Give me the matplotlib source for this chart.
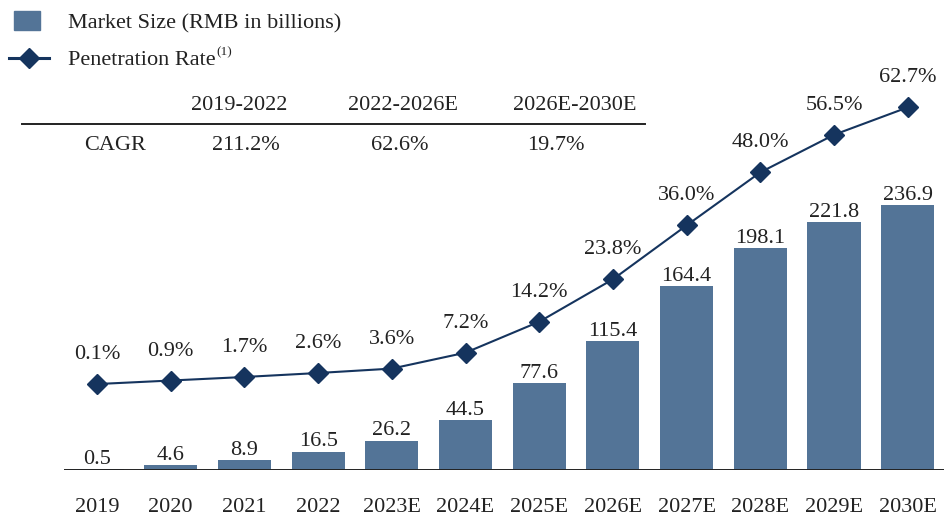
import matplotlib
matplotlib.use("Agg")
import matplotlib.pyplot as plt
from matplotlib.patches import Rectangle
from matplotlib.lines import Line2D

categories = ["2019", "2020", "2021", "2022", "2023E", "2024E", "2025E",
              "2026E", "2027E", "2028E", "2029E", "2030E"]
market_size = [0.5, 4.6, 8.9, 16.5, 26.2, 44.5, 77.6, 115.4, 164.4, 198.1, 221.8, 236.9]
penetration = [0.1, 0.9, 1.7, 2.6, 3.6, 7.2, 14.2, 23.8, 36.0, 48.0, 56.5, 62.7]
cagr_periods = ["2019-2022", "2022-2026E", "2026E-2030E"]
cagr_values = ["211.2%", "62.6%", "19.7%"]

BAR = "#537497"
LINE = "#15345E"
TXT = "#222222"
FONT = "Liberation Serif"
FS = 16
plt.rcParams["font.family"] = [FONT, "DejaVu Serif"]

W, H = 945, 517
fig = plt.figure(figsize=(W / 100, H / 100), dpi=100)

# axes in pixel geometry: left 64, right 945, baseline at y=470 (from top)
ax_left, ax_right, base = 64, 945, 470
ax = fig.add_axes([ax_left / W, (H - base) / H, (ax_right - ax_left) / W, base / H])
ax.set_xlim(-0.448, 11.506)
ax.set_ylim(0, base / 1.119)
x = list(range(len(categories)))
ax.bar(x, market_size, width=0.72, color=BAR, zorder=2)
for xi, v in zip(x, market_size):
    ax.annotate(f"{v:.1f}", (xi, v), xytext=(0, 3.8), textcoords="offset points",
                ha="center", va="baseline", fontsize=FS, color=TXT)
ax.axhline(0, color="#222222", lw=1.4, zorder=3)
for s in ax.spines.values():
    s.set_visible(False)
ax.set_yticks([])
ax.set_xticks(x)
ax.set_xticklabels(categories, fontsize=FS, color=TXT)
ax.tick_params(axis="x", length=0, pad=20)
ax.patch.set_alpha(0)

ax2 = ax.twinx()
ax2.set_ylim(-85.5 / 4.42, (base - 85.5) / 4.42)
ax2.plot(x, penetration, color=LINE, lw=1.5, marker="D", ms=10, zorder=4)
for xi, v in zip(x, penetration):
    ax2.annotate(f"{v:.1f}%", (xi, v), xytext=(0, 18), textcoords="offset points",
                 ha="center", va="baseline", fontsize=FS, color=TXT)
for s in ax2.spines.values():
    s.set_visible(False)
ax2.set_yticks([])

# overlay in pixel coordinates for legend and CAGR table
ov = fig.add_axes([0, 0, 1, 1])
ov.set_xlim(0, W)
ov.set_ylim(H, 0)
ov.axis("off")
ov.patch.set_alpha(0)
ov.add_patch(Rectangle((14, 11), 26, 19, color=BAR))
ov.text(68, 21, "Market Size (RMB in billions)", fontsize=FS, color=TXT,
        va="center_baseline", ha="left")
ov.add_line(Line2D([9, 49], [58, 58], color=LINE, lw=2.2))
ov.plot([29], [58], marker="D", ms=10, color=LINE)
t = ov.text(68, 58, "Penetration Rate", fontsize=FS, color=TXT,
            va="center_baseline", ha="left")
fig.canvas.draw()
bb = t.get_window_extent()
sup_x = bb.x1
ov.text(sup_x + 1, 52, "(1)", fontsize=9.5, color=TXT, va="center", ha="left")

col_x = [239, 403, 575]
val_x = [246, 400, 556]
for cx, p in zip(col_x, cagr_periods):
    ov.text(cx, 103, p, fontsize=FS, color=TXT, ha="center", va="center_baseline")
ov.add_line(Line2D([22, 645], [124, 124], color="#222222", lw=1.4))
ov.text(115, 143, "CAGR", fontsize=FS, color=TXT, ha="center", va="center_baseline")
for cx, v in zip(val_x, cagr_values):
    ov.text(cx, 143, v, fontsize=FS, color=TXT, ha="center", va="center_baseline")

fig.savefig("out.png", dpi=100)
